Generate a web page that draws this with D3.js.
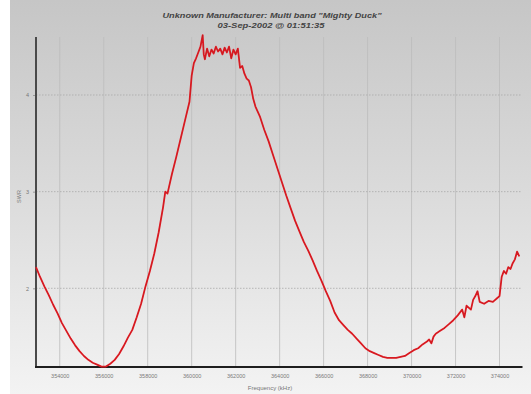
<!DOCTYPE html>
<html>
<head>
<meta charset="utf-8">
<script src="https://cdn.jsdelivr.net/npm/d3@7/dist/d3.min.js"></script>
<style>
  html, body { margin: 0; padding: 0; background: #fff; }
  svg { display: block; }
</style>
</head>
<body>
<svg id="chart" width="531" height="394"></svg>
<script>
// Sweep of SWR against frequency (kHz)
const titleLines = ['Unknown Manufacturer: Multi band "Mighty Duck"', '03-Sep-2002 @ 01:51:35'];
const xLabel = 'Frequency (kHz)';
const yLabel = 'SWR';
const xTicks = [354000, 356000, 358000, 360000, 362000, 364000, 366000, 368000, 370000, 372000, 374000];
const yTicks = [2, 3, 4];

const freq = [
  352920, 353100, 353300, 353500, 353700, 353900, 354100, 354300, 354500, 354700,
  354900, 355100, 355300, 355500, 355700, 355900, 356100, 356300, 356500, 356700,
  356900, 357100, 357300, 357500, 357700, 357900, 358100, 358300, 358500, 358700,
  358800, 358900, 359100, 359300, 359500, 359700, 359900, 360000, 360100, 360200,
  360300, 360400, 360450, 360500, 360550, 360600, 360700, 360800, 360900, 361000,
  361100, 361200, 361300, 361400, 361500, 361600, 361700, 361800, 361900, 362000,
  362100, 362200, 362300, 362400, 362500, 362600, 362700, 362800, 362900, 363100,
  363300, 363500, 363700, 363900, 364100, 364300, 364500, 364700, 364900, 365100,
  365300, 365500, 365700, 365900, 366100, 366300, 366500, 366700, 366900, 367100,
  367300, 367500, 367700, 367900, 368100, 368300, 368500, 368700, 368900, 369100,
  369300, 369500, 369700, 369900, 370100, 370300, 370500, 370700, 370800, 370900,
  371000, 371100, 371300, 371500, 371700, 371900, 372100, 372300, 372400, 372500,
  372700, 372800, 372900, 373000, 373100, 373300, 373500, 373700, 373900, 374000,
  374100, 374200, 374300, 374400, 374500, 374600, 374700, 374800, 374900
];
const swr = [
  2.22, 2.12, 2.02, 1.93, 1.83, 1.74, 1.64, 1.56, 1.48, 1.41,
  1.35, 1.30, 1.26, 1.23, 1.21, 1.19, 1.19, 1.22, 1.26, 1.32,
  1.40, 1.49, 1.57, 1.70, 1.84, 2.02, 2.18, 2.36, 2.58, 2.84,
  3.00, 2.98, 3.18, 3.36, 3.55, 3.74, 3.93, 4.20, 4.33, 4.38,
  4.44, 4.50, 4.56, 4.62, 4.42, 4.37, 4.48, 4.40, 4.47, 4.43,
  4.50, 4.45, 4.48, 4.42, 4.49, 4.44, 4.50, 4.38, 4.47, 4.42,
  4.48, 4.28, 4.30, 4.22, 4.17, 4.15, 4.08, 3.96, 3.88, 3.78,
  3.64, 3.52, 3.38, 3.24, 3.10, 2.96, 2.83, 2.70, 2.59, 2.48,
  2.39, 2.29, 2.18, 2.08, 1.97, 1.87, 1.75, 1.67, 1.62, 1.57,
  1.53, 1.48, 1.43, 1.38, 1.35, 1.33, 1.31, 1.29, 1.28, 1.28,
  1.28, 1.29, 1.30, 1.33, 1.36, 1.38, 1.42, 1.45, 1.47, 1.43,
  1.50, 1.53, 1.56, 1.59, 1.63, 1.67, 1.72, 1.78, 1.70, 1.82,
  1.78, 1.88, 1.92, 1.97, 1.86, 1.84, 1.87, 1.86, 1.90, 1.92,
  2.12, 2.18, 2.15, 2.22, 2.20, 2.26, 2.30, 2.38, 2.33
];

const data = freq.map((f, i) => ({ f, v: swr[i] }));

const svg = d3.select('#chart');
const W = 531, H = 394;
const plot = { left: 36, right: 521.5, top: 37, bottom: 367 };

// Backdrop: grey panel fading lighter towards the bottom
const defs = svg.append('defs');
const grad = defs.append('linearGradient')
  .attr('id', 'bg').attr('x1', 0).attr('y1', 0).attr('x2', 0).attr('y2', 1);
grad.append('stop').attr('offset', '0%').attr('stop-color', '#c6c6c6');
grad.append('stop').attr('offset', '45%').attr('stop-color', '#d9d9d9');
grad.append('stop').attr('offset', '100%').attr('stop-color', '#f3f3f3');
svg.append('rect').attr('x', 0).attr('y', 0).attr('width', W).attr('height', H).attr('fill', '#ffffff');
svg.append('rect').attr('x', 10).attr('y', 0).attr('width', W - 10).attr('height', H).attr('fill', 'url(#bg)');

const x = d3.scaleLinear().domain([352920, 375000]).range([plot.left, plot.right]);
const y = d3.scaleLinear().domain([1.186, 4.6]).range([plot.bottom, plot.top]);

// Grid
const grid = svg.append('g');
grid.selectAll('line.vx').data(xTicks).join('line')
  .attr('x1', d => x(d)).attr('x2', d => x(d))
  .attr('y1', plot.top).attr('y2', plot.bottom)
  .attr('stroke', '#bdbdbd').attr('stroke-width', 0.8);
grid.selectAll('line.hy').data(yTicks).join('line')
  .attr('x1', plot.left).attr('x2', plot.right)
  .attr('y1', d => y(d)).attr('y2', d => y(d))
  .attr('stroke', '#aaaaaa').attr('stroke-width', 0.8)
  .attr('stroke-dasharray', '1.5,1.5');

// Axes
const xAxis = d3.axisBottom(x).tickValues(xTicks).tickSize(0).tickPadding(7)
  .tickFormat(d3.format('d'));
const gx = svg.append('g').attr('transform', `translate(0,${plot.bottom})`).call(xAxis);
gx.select('.domain').remove();
gx.selectAll('text').attr('fill', '#7a7a7a').attr('font-size', 5.5)
  .attr('font-family', 'Liberation Sans, Arial, sans-serif');

const yAxis = d3.axisLeft(y).tickValues(yTicks).tickSize(3).tickPadding(4)
  .tickFormat(d3.format('d'));
const gy = svg.append('g').attr('transform', `translate(${plot.left},0)`).call(yAxis);
gy.select('.domain').remove();
gy.selectAll('line').attr('stroke', '#999');
gy.selectAll('text').attr('fill', '#777').attr('font-size', 5.5)
  .attr('font-family', 'Liberation Sans, Arial, sans-serif');

svg.append('line')
  .attr('x1', plot.left).attr('x2', plot.left)
  .attr('y1', plot.top).attr('y2', plot.bottom + 1)
  .attr('stroke', '#4a4a4a').attr('stroke-width', 2);
svg.append('line')
  .attr('x1', plot.left - 1).attr('x2', plot.right + 1)
  .attr('y1', plot.bottom).attr('y2', plot.bottom)
  .attr('stroke', '#1e1e1e').attr('stroke-width', 2);

// Trace
const line = d3.line().x(d => x(d.f)).y(d => y(d.v));
svg.append('path').datum(data).attr('d', line)
  .attr('fill', 'none').attr('stroke', '#e81c24').attr('stroke-width', 1.8)
  .attr('stroke-linejoin', 'round');
svg.append('path').datum(data).attr('d', line)
  .attr('fill', 'none').attr('stroke', '#8c1a1e').attr('stroke-width', 0.6)
  .attr('stroke-opacity', 0.5).attr('stroke-linejoin', 'round');

// Titles
svg.append('text').attr('x', 272).attr('y', 18).attr('text-anchor', 'middle')
  .attr('font-family', 'Liberation Sans, Arial, sans-serif')
  .attr('font-size', 7.5).attr('font-style', 'italic').attr('font-weight', 'bold')
  .attr('fill', '#444').attr('textLength', 219).attr('lengthAdjust', 'spacingAndGlyphs')
  .text(titleLines[0]);
svg.append('text').attr('x', 271).attr('y', 28).attr('text-anchor', 'middle')
  .attr('font-family', 'Liberation Sans, Arial, sans-serif')
  .attr('font-size', 7.5).attr('font-style', 'italic').attr('font-weight', 'bold')
  .attr('fill', '#444').attr('textLength', 107).attr('lengthAdjust', 'spacingAndGlyphs')
  .text(titleLines[1]);

svg.append('text').attr('x', 270).attr('y', 390).attr('text-anchor', 'middle')
  .attr('font-family', 'Liberation Sans, Arial, sans-serif')
  .attr('font-size', 6).attr('fill', '#777')
  .text(xLabel);
svg.append('text')
  .attr('transform', `translate(21,${y(2.95)}) rotate(-90)`)
  .attr('text-anchor', 'middle')
  .attr('font-family', 'Liberation Sans, Arial, sans-serif')
  .attr('font-size', 5.5).attr('fill', '#777')
  .text(yLabel);
</script>
</body>
</html>
